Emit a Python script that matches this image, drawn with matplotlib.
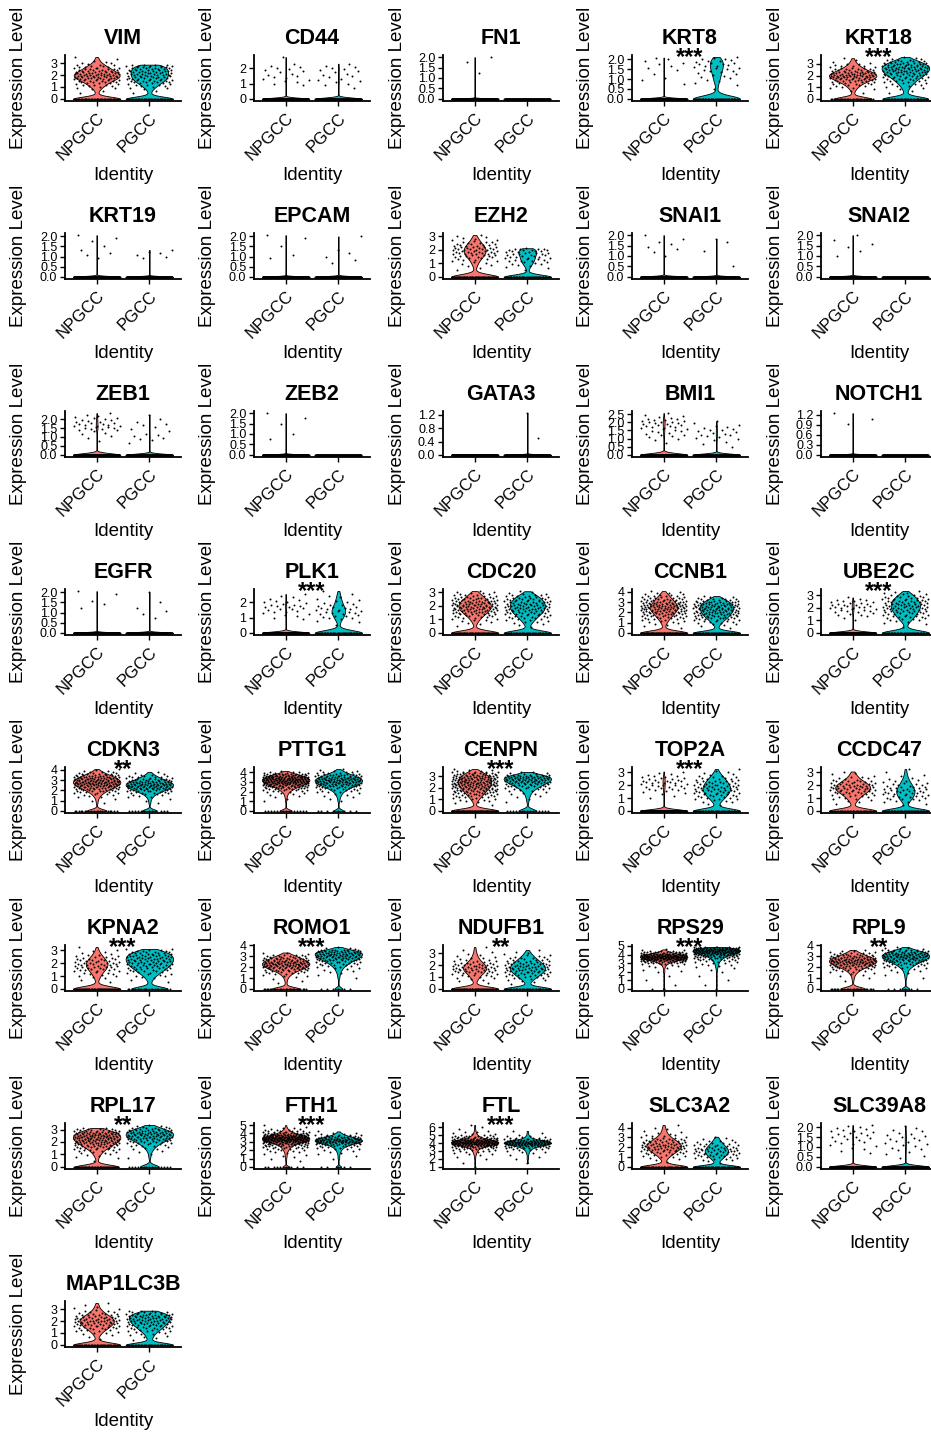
"""Violin plots of gene expression in NPGCC vs PGCC cells."""

import numpy as np
import matplotlib
matplotlib.use("Agg")
from matplotlib import pyplot as plt
from matplotlib import transforms
from matplotlib.ticker import MultipleLocator, FormatStrFormatter

plt.rcParams['font.family'] = ['Liberation Sans', 'DejaVu Sans']

groups = ["NPGCC", "PGCC"]
colors = ["#F8766D", "#00BFC4"]

genes = ["VIM", "CD44", "FN1", "KRT8", "KRT18",
         "KRT19", "EPCAM", "EZH2", "SNAI1", "SNAI2",
         "ZEB1", "ZEB2", "GATA3", "BMI1", "NOTCH1",
         "EGFR", "PLK1", "CDC20", "CCNB1", "UBE2C",
         "CDKN3", "PTTG1", "CENPN", "TOP2A", "CCDC47",
         "KPNA2", "ROMO1", "NDUFB1", "RPS29", "RPL9",
         "RPL17", "FTH1", "FTL", "SLC3A2", "SLC39A8",
         "MAP1LC3B"]

stars = ["", "", "", "***", "***",
         "", "", "", "", "",
         "", "", "", "", "",
         "", "***", "", "", "***",
         "**", "", "***", "***", "",
         "***", "***", "**", "***", "**",
         "**", "***", "***", "", "",
         ""]

tick_step = [1, 1, 0.5, 0.5, 1,
             0.5, 0.5, 1, 0.5, 0.5,
             0.5, 0.5, 0.4, 0.5, 0.3,
             0.5, 1, 1, 1, 1,
             1, 1, 1, 1, 1,
             1, 1, 1, 1, 1,
             1, 1, 1, 1, 0.5,
             1]

# cell counts per expression bin: index 0 = zero expression,
# index k = values around k * BIN
BIN = 0.25

npgcc_counts = [
    [35, 0, 1, 2, 5, 8, 12, 18, 20, 16, 12, 8, 4, 2, 1],             # VIM
    [250, 0, 0, 0, 3, 3, 4, 3, 4, 2, 0, 1],                          # CD44
    [280, 0, 0, 0, 0, 1, 0, 1, 1],                                   # FN1
    [270, 0, 0, 1, 2, 1, 2, 3, 3],                                   # KRT8
    [28, 0, 1, 2, 4, 7, 12, 18, 22, 18, 12, 7, 4, 2, 1],             # KRT18
    [272, 0, 0, 0, 2, 2, 1, 1, 2],                                   # KRT19
    [275, 0, 0, 0, 2, 0, 1, 0, 2],                                   # EPCAM
    [55, 0, 1, 2, 4, 6, 10, 13, 14, 12, 8, 5, 3],                    # EZH2
    [272, 0, 0, 0, 1, 2, 2, 2, 1],                                   # SNAI1
    [275, 0, 0, 0, 1, 1, 2, 1, 1],                                   # SNAI2
    [240, 0, 0, 1, 2, 3, 10, 9, 7, 3],                               # ZEB1
    [275, 0, 0, 1, 1, 0, 1, 1, 1],                                   # ZEB2
    [280],                                                           # GATA3
    [240, 0, 0, 1, 3, 5, 6, 8, 10, 6, 2],                            # BMI1
    [277, 0, 0, 0, 2, 1],                                            # NOTCH1
    [275, 0, 0, 0, 0, 1, 2, 0, 2],                                   # EGFR
    [250, 0, 0, 0, 3, 4, 5, 7, 5, 3, 2],                             # PLK1
    [55, 0, 1, 3, 6, 10, 16, 20, 22, 20, 16, 10, 6],                 # CDC20
    [70, 0, 1, 2, 4, 6, 9, 12, 15, 18, 20, 18, 15, 12, 9, 6, 3],     # CCNB1
    [240, 0, 0, 0, 1, 2, 4, 6, 8, 8, 6, 3],                          # UBE2C
    [20, 0, 0, 1, 1, 2, 4, 7, 12, 18, 24, 28, 26, 22, 15, 8, 3],     # CDKN3
    [15, 0, 0, 0, 1, 1, 2, 3, 6, 12, 20, 30, 38, 40, 34, 22, 6],     # PTTG1
    [70, 0, 1, 3, 6, 10, 14, 18, 22, 25, 26, 25, 22, 16, 6],         # CENPN
    [235, 0, 0, 0, 1, 2, 4, 6, 8, 9, 7, 5, 2],                       # TOP2A
    [35, 0, 1, 3, 5, 8, 12, 15, 14, 10, 6, 3, 2],                    # CCDC47
    [50, 0, 1, 2, 4, 6, 9, 12, 12, 10, 7, 4, 2, 1],                  # KPNA2
    [25, 0, 1, 1, 2, 4, 8, 14, 22, 26, 24, 18, 12, 4],               # ROMO1
    [50, 0, 1, 3, 5, 8, 12, 14, 12, 8, 5, 3, 2, 1, 1],               # NDUFB1
    [2, 0, 1, 0, 1, 0, 1, 0, 2, 1, 2, 4, 10, 22, 45, 55, 40, 18, 5], # RPS29
    [25, 0, 0, 1, 1, 2, 4, 8, 14, 22, 28, 26, 18, 10, 4],            # RPL9
    [45, 0, 1, 2, 4, 7, 12, 18, 24, 28, 28, 24, 12],                 # RPL17
    [10, 0, 0, 1, 1, 2, 2, 3, 5, 8, 12, 20, 35, 50, 50, 35, 20, 10, 5, 2, 1],  # FTH1
    [0, 0, 0, 0, 1, 0, 1, 0, 1, 1, 2, 3, 5, 8, 16, 30, 50, 45, 25, 12, 6, 3, 2, 1, 1, 1],  # FTL
    [40, 0, 1, 2, 4, 6, 9, 12, 14, 14, 12, 9, 6, 4, 2, 2, 1, 1],     # SLC3A2
    [250, 0, 0, 2, 4, 5, 6, 7, 5],                                   # SLC39A8
    [40, 0, 1, 2, 4, 7, 11, 14, 16, 14, 10, 6, 3, 2, 1],             # MAP1LC3B
]

pgcc_counts = [
    [35, 0, 1, 2, 5, 8, 12, 14, 15, 15, 14, 14],                     # VIM
    [170, 0, 0, 1, 3, 3, 3, 3, 4, 2],                                # CD44
    [190],                                                           # FN1
    [45, 0, 1, 2, 4, 5, 7, 8, 7],                                    # KRT8
    [35, 0, 1, 2, 3, 5, 7, 10, 13, 16, 18, 18, 16, 10, 4],           # KRT18
    [185, 0, 0, 0, 3, 3],                                            # KRT19
    [185, 0, 0, 2, 1, 2, 0, 0, 1],                                   # EPCAM
    [45, 0, 1, 3, 6, 8, 9, 10, 12],                                  # EZH2
    [186, 0, 1, 0, 0, 1, 0, 2],                                      # SNAI1
    [190],                                                           # SNAI2
    [175, 0, 0, 2, 4, 2, 2, 3, 1, 1],                                # ZEB1
    [190],                                                           # ZEB2
    [188, 0, 1, 0, 0, 1],                                            # GATA3
    [170, 0, 1, 2, 4, 5, 5, 4, 2],                                   # BMI1
    [190],                                                           # NOTCH1
    [184, 0, 0, 1, 2, 1, 1, 0, 1],                                   # EGFR
    [45, 0, 1, 2, 5, 7, 8, 6, 4, 3, 2, 1],                           # PLK1
    [40, 0, 2, 4, 7, 10, 14, 16, 17, 16, 14, 10, 4],                 # CDC20
    [50, 0, 1, 3, 5, 8, 11, 14, 16, 17, 18, 17, 14, 10, 4],          # CCNB1
    [45, 0, 1, 2, 5, 8, 10, 12, 14, 14, 13, 11, 8, 4],               # UBE2C
    [12, 0, 0, 1, 1, 2, 4, 8, 14, 20, 24, 22, 16, 10, 5, 2],         # CDKN3
    [8, 0, 0, 0, 1, 1, 2, 3, 5, 9, 14, 20, 24, 24, 20, 13, 7, 2],    # PTTG1
    [15, 0, 0, 1, 1, 2, 3, 5, 9, 14, 20, 24, 22, 6],                 # CENPN
    [40, 0, 2, 4, 7, 10, 12, 13, 12, 10, 8, 5, 3, 1],                # TOP2A
    [45, 0, 2, 4, 7, 9, 10, 9, 7, 5, 3, 2, 1, 1],                    # CCDC47
    [22, 0, 1, 2, 4, 7, 10, 13, 15, 16, 16, 14, 8],                  # KPNA2
    [6, 0, 0, 0, 1, 1, 2, 3, 5, 8, 12, 18, 22, 24, 20, 4],           # ROMO1
    [35, 0, 2, 4, 8, 11, 14, 15, 14, 11, 8, 5, 3, 1],                # NDUFB1
    [1, 0, 1, 0, 1, 0, 1, 0, 1, 1, 2, 3, 4, 6, 10, 16, 26, 40, 48, 35],  # RPS29
    [6, 0, 0, 0, 1, 1, 2, 3, 6, 10, 16, 22, 26, 24, 16, 5],          # RPL9
    [15, 0, 0, 1, 1, 2, 4, 7, 12, 18, 22, 22, 16, 6],                # RPL17
    [5, 0, 0, 0, 1, 1, 1, 2, 3, 5, 9, 16, 28, 30, 20, 10, 4, 1],     # FTH1
    [0, 0, 0, 0, 0, 0, 1, 0, 1, 1, 1, 2, 3, 6, 12, 25, 38, 30, 12, 4, 2, 1, 1],  # FTL
    [40, 0, 2, 4, 7, 9, 11, 11, 9, 7, 5, 3, 2],                      # SLC3A2
    [165, 0, 2, 3, 4, 5, 5, 4, 2],                                   # SLC39A8
    [35, 0, 2, 3, 5, 8, 11, 14, 16, 17, 17, 10],                     # MAP1LC3B
]


def expand(counts):
    """Turn binned counts into per-cell values spread inside each bin."""
    vals = []
    for k, n in enumerate(counts):
        if n == 0:
            continue
        if k == 0:
            vals.extend([0.0] * n)
        else:
            vals.extend(k * BIN + ((np.arange(n) + 0.5) / n - 0.5) * BIN)
    return np.array(vals)


def spread(n):
    """Van der Corput sequence in [-0.5, 0.5) used for horizontal jitter."""
    out = np.zeros(n)
    for i in range(n):
        q, denom, x = i + 1, 1.0, 0.0
        while q:
            q, r = divmod(q, 2)
            denom *= 2
            x += r / denom
        out[i] = x - 0.5
    return out


W, H = 931, 1433
fig = plt.figure(figsize=(W / 100, H / 100), dpi=100)

ax_left, ax_w = 65, 116
ax_bottom, ax_h = 101, 46
col_step, row_step = 189, 178

for i, gene in enumerate(genes):
    row, col = divmod(i, 5)
    left = ax_left + col * col_step
    bottom = ax_bottom + row * row_step
    ax = fig.add_axes([left / W, 1 - bottom / H, ax_w / W, ax_h / H])

    data = [expand(npgcc_counts[i]), expand(pgcc_counts[i])]
    lo = min(d.min() for d in data)
    hi = max(d.max() for d in data)
    pad = (hi - lo) * 0.05

    for j, vals in enumerate(data):
        if vals.std() > 0:
            bw = 0.5 * len(vals) ** -0.2
            parts = ax.violinplot([vals], positions=[j + 1], widths=0.9,
                                  showextrema=False, bw_method=bw, points=200)
            for body in parts['bodies']:
                body.set_facecolor(colors[j])
                body.set_edgecolor('black')
                body.set_linewidth(0.6)
                body.set_alpha(1)
        ax.scatter(j + 1 + spread(len(vals)) * 0.88, vals, s=2.0,
                   color='black', linewidths=0, zorder=3)

    ax.set_xlim(0.4, 2.6)
    ax.set_ylim(lo - pad, hi + pad)
    ax.set_xticks([1, 2])
    ax.set_xticklabels(groups, rotation=45, ha='right',
                       rotation_mode='anchor', fontsize=12)
    ax.yaxis.set_major_locator(MultipleLocator(tick_step[i]))
    fmt = '%.1f' if tick_step[i] < 1 else '%d'
    ax.yaxis.set_major_formatter(FormatStrFormatter(fmt))
    ax.tick_params(axis='y', labelsize=9, length=3.5, width=1, pad=2)
    ax.tick_params(axis='x', length=3.5, width=1, pad=3)
    for side in ['top', 'right']:
        ax.spines[side].set_visible(False)
    for side in ['left', 'bottom']:
        ax.spines[side].set_linewidth(1.3)

    ax.set_title(gene, fontsize=15.5, fontweight='bold', pad=8)
    if stars[i]:
        trans = transforms.blended_transform_factory(ax.transData, ax.transAxes)
        ax.text(1.5, 0.80, stars[i], transform=trans, ha='center',
                va='baseline', fontsize=17, fontweight='bold', clip_on=False)

    fig.text((left - 46) / W, 1 - (bottom - ax_h / 2) / H, "Expression Level",
             rotation=90, ha='center', va='center', fontsize=13.5)
    fig.text((left + ax_w / 2) / W, 1 - (bottom + 74) / H, "Identity",
             ha='center', va='center', fontsize=13.5)

fig.savefig("out.png", dpi=100)
